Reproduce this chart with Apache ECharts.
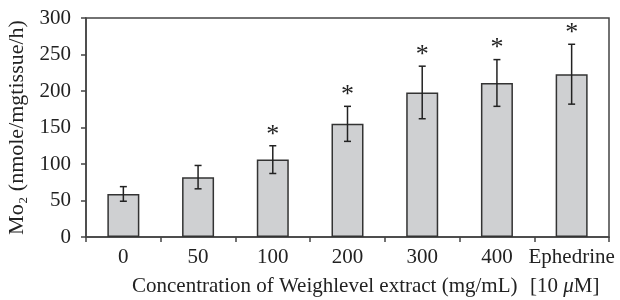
<!DOCTYPE html>
<html><head><meta charset="utf-8">
<script src="https://cdn.jsdelivr.net/npm/echarts@6/dist/echarts.min.js"></script>
<style>html,body{margin:0;padding:0;background:#fff}#c{width:620px;height:300px}</style>
</head><body><div id="c"></div>
<script>
var categories = ['0', '50', '100', '200', '300', '400', 'Ephedrine'];
var means = [59, 82, 106, 155, 198, 211, 223];
var errors = [10, 16, 19, 24, 36, 32, 41];
var significant = [false, false, true, true, true, true, true];
var yTicks = [0, 50, 100, 150, 200, 250, 300];

var FONT = '"Liberation Serif", "DejaVu Serif", serif';
var TXT = '#222';
var FS = 21;
var chart = echarts.init(document.getElementById('c'));

var errData = means.map(function (m, i) { return [i, m - errors[i], m + errors[i], significant[i] ? 1 : 0]; });

chart.setOption({
  animation: false,
  grid: { left: 86, right: 11, top: 18, bottom: 63, outerBoundsMode: 'none', containLabel: false, show: true, borderColor: '#444', borderWidth: 1.5, backgroundColor: 'transparent' },
  xAxis: {
    type: 'category', data: categories, boundaryGap: true,
    axisLine: { lineStyle: { color: '#444', width: 1.5 } },
    axisTick: { show: true, length: 5, lineStyle: { color: '#444', width: 1.5 } },
    axisLabel: { color: TXT, fontFamily: FONT, fontSize: FS, margin: 10, interval: 0 }
  },
  yAxis: {
    type: 'value', min: yTicks[0], max: yTicks[yTicks.length - 1], interval: 50,
    splitLine: { show: false },
    axisLine: { show: true, lineStyle: { color: '#444', width: 1.5 } },
    axisTick: { show: true, length: 5, lineStyle: { color: '#444', width: 1.5 } },
    axisLabel: { color: TXT, fontFamily: FONT, fontSize: FS, margin: 15 },
    name: 'Mo\u2082 (nmole/mgtissue/h)', nameLocation: 'middle', nameGap: 48,
    nameTextStyle: { color: TXT, fontFamily: FONT, fontSize: 22 }
  },
  graphic: [
    { type: 'text', x: 132, y: 276, style: { text: 'Concentration of Weighlevel extract (mg/mL)', fill: TXT, font: '21px ' + FONT } },
    { type: 'text', x: 530, y: 276, style: {
        text: '[10 {i|\u03bc}M]', fill: TXT, font: '21px ' + FONT,
        rich: { i: { fontFamily: FONT, fontSize: 21, fontStyle: 'italic', fill: TXT } }
    } }
  ],
  series: [
    {
      type: 'bar', data: means, barWidth: 32,
      itemStyle: { color: '#cfd0d2', borderColor: '#333', borderWidth: 1.5 }
    },
    {
      type: 'custom', data: errData, z: 5,
      renderItem: function (params, api) {
        var x = api.coord([api.value(0), 0])[0];
        var lo = api.coord([api.value(0), api.value(1)])[1];
        var hi = api.coord([api.value(0), api.value(2)])[1];
        var cap = 3.5;
        var st = { stroke: '#222', lineWidth: 1.5 };
        var children = [
          { type: 'line', shape: { x1: x, y1: lo, x2: x, y2: hi }, style: st },
          { type: 'line', shape: { x1: x - cap, y1: lo, x2: x + cap, y2: lo }, style: st },
          { type: 'line', shape: { x1: x - cap, y1: hi, x2: x + cap, y2: hi }, style: st }
        ];
        if (api.value(3)) {
          children.push({ type: 'text', style: { text: '*', x: x, y: hi + 2, align: 'center', verticalAlign: 'bottom', fill: '#222', font: '26px ' + FONT } });
        }
        return { type: 'group', children: children };
      }
    }
  ]
});
</script></body></html>
